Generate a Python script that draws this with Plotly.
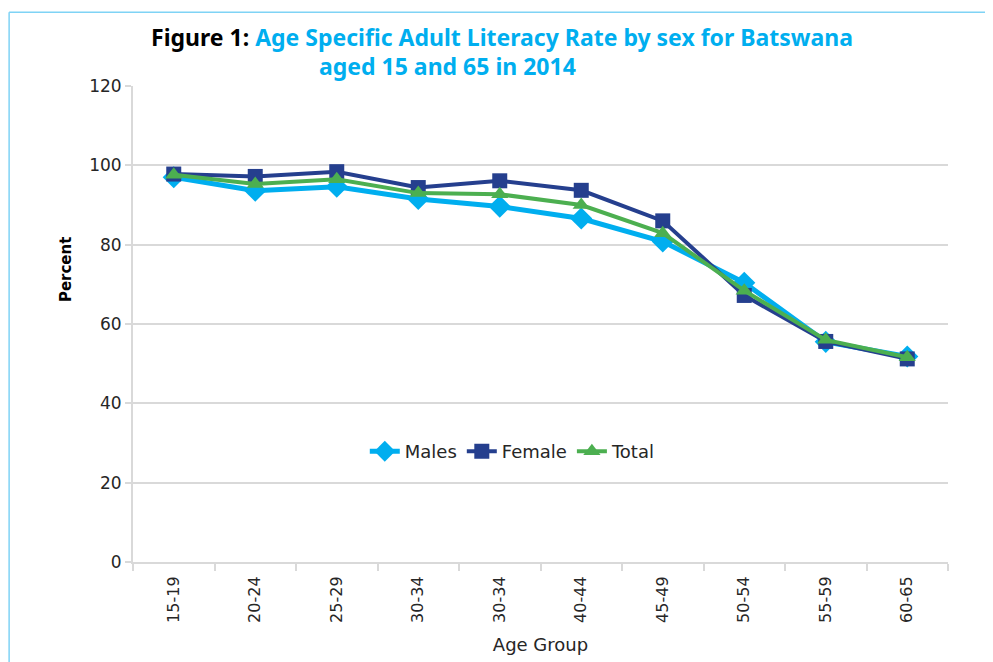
import plotly.graph_objects as go

# Dane (odsetek piśmiennych wg grupy wieku)
age_groups = ["15-19", "20-24", "25-29", "30-34", "30-34",
              "40-44", "45-49", "50-54", "55-59", "60-65"]
males = [97.0, 93.6, 94.6, 91.5, 89.6, 86.6, 80.8, 70.4, 55.5, 51.8]
female = [97.8, 97.2, 98.4, 94.4, 96.1, 93.7, 86.0, 67.2, 55.6, 51.2]
total = [97.6, 95.3, 96.5, 93.0, 92.7, 90.0, 82.9, 68.4, 56.0, 51.6]

FONT = "DejaVu Sans"
TITLE_FONT = "Noto Sans"
x_pos = list(range(len(age_groups)))  # duplikat "30-34" -> pozycje liczbowe

fig = go.Figure()

fig.add_trace(go.Scatter(
    x=x_pos, y=males, name="Males", mode="lines+markers",
    line=dict(color="#00aeef", width=5),
    marker=dict(symbol="diamond", size=17, color="#00aeef")
))
fig.add_trace(go.Scatter(
    x=x_pos, y=female, name="Female", mode="lines+markers",
    line=dict(color="#253f8e", width=4),
    marker=dict(symbol="square", size=15, color="#253f8e")
))
fig.add_trace(go.Scatter(
    x=x_pos, y=total, name="Total", mode="lines+markers",
    line=dict(color="#4caf50", width=4),
    marker=dict(symbol="triangle-up", size=15, color="#4caf50")
))

# Ramka w kolorze jasnoniebieskim (góra i lewa strona)
fig.add_shape(type="line", xref="paper", yref="paper",
              x0=-0.152, x1=1.08, y0=1.155, y1=1.155,
              line=dict(color="#7fd3f5", width=1.5))
fig.add_shape(type="line", xref="paper", yref="paper",
              x0=-0.152, x1=-0.152, y0=1.155, y1=-0.25,
              line=dict(color="#7fd3f5", width=1.5))

# Tytuł w dwóch liniach
fig.add_annotation(
    xref="paper", yref="paper", x=0.453, y=1.103, showarrow=False,
    xanchor="center", yanchor="middle",
    text="<b>Figure 1: <span style='color:#00aeef'>Age Specific Adult Literacy Rate by sex for Batswana</span></b>",
    font=dict(family=TITLE_FONT, size=23, color="black")
)
fig.add_annotation(
    xref="paper", yref="paper", x=0.386, y=1.042, showarrow=False,
    xanchor="center", yanchor="middle",
    text="<b>aged 15 and 65 in 2014</b>",
    font=dict(family=TITLE_FONT, size=23, color="#00aeef")
)

# Tytuł osi Y (w oryginale przesunięty ku górze)
fig.add_annotation(
    xref="paper", yref="paper", x=-0.083, y=0.614, showarrow=False,
    xanchor="center", yanchor="middle", textangle=-90,
    text="<b>Percent</b>",
    font=dict(family=FONT, size=15, color="black")
)

fig.update_layout(
    width=993, height=662,
    margin=dict(l=125, r=53, t=78, b=108),
    paper_bgcolor="white", plot_bgcolor="white",
    font=dict(family=FONT, size=15, color="#262626"),
    showlegend=True,
    legend=dict(orientation="h", x=0.466, xanchor="center", y=0.232, yanchor="middle",
                font=dict(family=FONT, size=18, color="#262626"),
                bgcolor="rgba(0,0,0,0)"),
    xaxis=dict(
        range=[-0.5, len(age_groups) - 0.5],
        tickmode="array", tickvals=x_pos, ticktext=age_groups,
        tickangle=-90, ticks="outside", ticklen=6, tickcolor="rgba(0,0,0,0)",
        showgrid=False,
        showline=True, linecolor="#d9d9d9", linewidth=2,
        tickfont=dict(family=FONT, size=16, color="#262626"),
        minor=dict(tickmode="array",
                   tickvals=[i - 0.5 for i in range(len(age_groups) + 1)],
                   ticks="outside", ticklen=7, tickcolor="#d9d9d9", tickwidth=2),
        title=dict(text="Age Group", font=dict(family=FONT, size=18, color="#262626"),
                   standoff=16),
        zeroline=False
    ),
    yaxis=dict(
        range=[0, 120], tickmode="linear", tick0=0, dtick=20,
        showgrid=True, gridcolor="#d9d9d9", gridwidth=2,
        showline=True, linecolor="#d9d9d9", linewidth=2,
        ticks="outside", ticklen=6, tickcolor="#d9d9d9", tickwidth=2,
        tickfont=dict(family=FONT, size=17, color="#262626"),
        zeroline=False
    )
)

fig.write_html("out.html")
